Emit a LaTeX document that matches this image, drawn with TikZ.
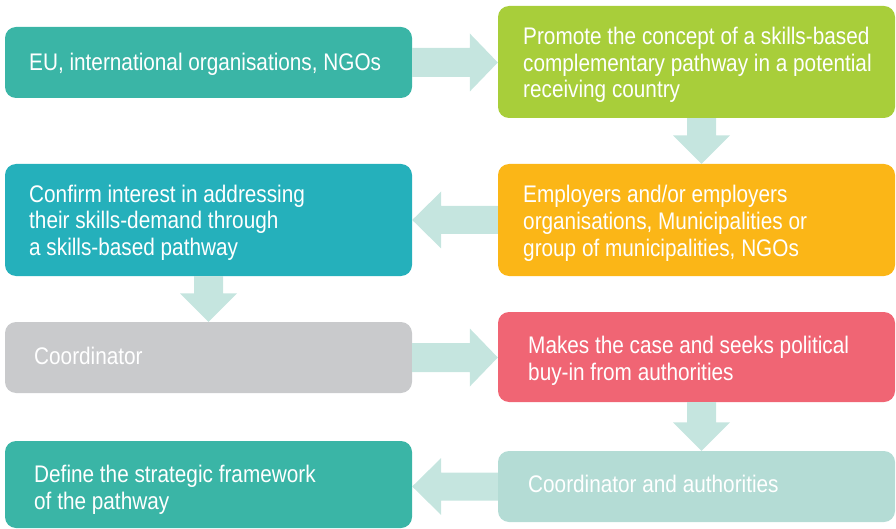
\documentclass[tikz,border=0pt]{standalone}
\usepackage{fontspec}
\setmainfont[FakeStretch=0.865]{Liberation Sans}
\usetikzlibrary{calc}
\definecolor{cteal}{HTML}{3AB5A6}
\definecolor{ccyan}{HTML}{25B0BB}
\definecolor{cgray}{HTML}{C9CACC}
\definecolor{clime}{HTML}{A8CE3A}
\definecolor{corange}{HTML}{FBB617}
\definecolor{cpink}{HTML}{F06574}
\definecolor{cmint}{HTML}{B4DCD5}
\definecolor{carrow}{HTML}{C5E5DF}
\tikzset{
  box/.style={rectangle, rounded corners=11pt, inner sep=0pt, draw=none},
  lbl/.style={anchor=base west, inner sep=0pt, align=left, text=white,
    font=\fontsize{24}{26.5}\selectfont},
  flow/.style={fill=carrow, draw=none}
}
\newcommand\flowright[2]{%
  \fill[flow] let \p1=(#1.east), \p2=(#2.west) in
    (\x1,\y1+14.5pt) -- (\x2-28pt,\y1+14.5pt) -- (\x2-28pt,\y1+29pt) -- (\x2,\y1)
    -- (\x2-28pt,\y1-29pt) -- (\x2-28pt,\y1-14.5pt) -- (\x1,\y1-14.5pt) -- cycle;}
\newcommand\flowleft[2]{%
  \fill[flow] let \p1=(#1.west), \p2=(#2.east) in
    (\x1,\y1+14pt) -- (\x2+29pt,\y1+14pt) -- (\x2+29pt,\y1+28.5pt) -- (\x2,\y1)
    -- (\x2+29pt,\y1-28.5pt) -- (\x2+29pt,\y1-14pt) -- (\x1,\y1-14pt) -- cycle;}
\newcommand\flowdown[3]{%
  \fill[flow] let \p1=($(#1.south)+(#3,0)$), \p2=(#2.north) in
    (\x1-14.5pt,\y1) -- (\x1-14.5pt,\y2+28.5pt) -- (\x1-28.5pt,\y2+28.5pt) -- (\x1,\y2)
    -- (\x1+28.5pt,\y2+28.5pt) -- (\x1+14.5pt,\y2+28.5pt) -- (\x1+14.5pt,\y1) -- cycle;}
\begin{document}
\begin{tikzpicture}[x=1pt,y=-1pt]
\useasboundingbox (0,0) rectangle (896,529);
% boxes
\node[box, fill=cteal,   minimum width=407pt, minimum height=71pt]  (eu) at (208.5,62.5) {};
\node[box, fill=clime,   minimum width=397pt, minimum height=112pt] (pr) at (696.5,62) {};
\node[box, fill=ccyan,   minimum width=407pt, minimum height=112pt] (cf) at (208.5,220) {};
\node[box, fill=corange, minimum width=397pt, minimum height=112pt] (em) at (696.5,220) {};
\node[box, fill=cgray,   minimum width=407pt, minimum height=71pt]  (co) at (208.5,357.5) {};
\node[box, fill=cpink,   minimum width=397pt, minimum height=90pt]  (mk) at (696.5,357) {};
\node[box, fill=cteal,   minimum width=407pt, minimum height=87pt]  (df) at (208.5,484.5) {};
\node[box, fill=cmint,   minimum width=397pt, minimum height=71pt]  (ca) at (696.5,486.5) {};
% texts (anchor = baseline of the last line)
\node[lbl] (eut) at (29,71) {EU, international organisations, NGOs};
\node[lbl] (prt) at (523,98) {Promote the concept of a skills-based\\complementary pathway in a potential\\receiving country};
\node[lbl] (cft) at (29,255) {Confirm interest in addressing\\their skills-demand through\\a skills-based pathway};
\node[lbl] (emt) at (523,256) {Employers and/or employers\\organisations, Municipalities or\\group of municipalities, NGOs};
\node[lbl] (cot) at (34,364) {Coordinator};
\node[lbl] (mkt) at (528,380) {Makes the case and seeks political\\buy-in from authorities};
\node[lbl] (dft) at (34,509) {Define the strategic framework\\of the pathway};
\node[lbl] (cat) at (528,492) {Coordinator and authorities};
% arrows
\flowright{eu}{pr}
\flowdown{pr}{em}{5}
\flowleft{em}{cf}
\flowdown{cf}{co}{0}
\flowright{co}{mk}
\flowdown{mk}{ca}{5}
\flowleft{ca}{df}
\end{tikzpicture}
\end{document}
